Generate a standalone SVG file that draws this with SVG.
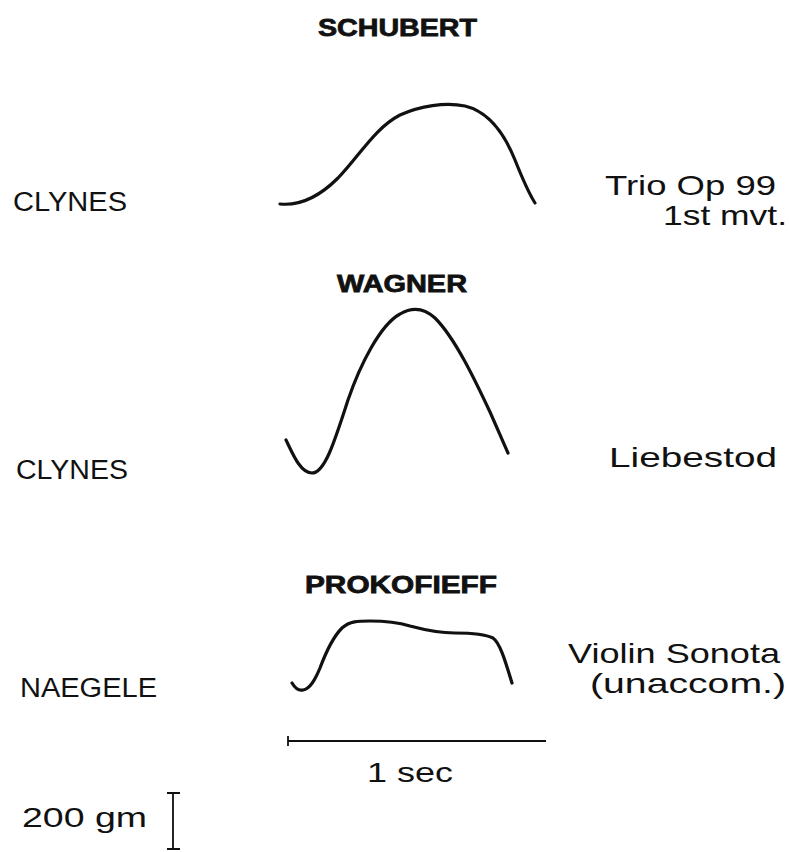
<svg xmlns="http://www.w3.org/2000/svg" width="789" height="852" viewBox="0 0 789 852">
<style>
.t{font-family:"Liberation Sans",Arial,sans-serif;font-size:27px;fill:#111}
.r{font-size:28px}
.h{font-family:"Liberation Sans",Arial,sans-serif;font-size:24px;font-weight:bold;fill:#111;stroke:#111;stroke-width:0.8}
.c{fill:none;stroke:#111;stroke-width:3.2;stroke-linecap:round;stroke-linejoin:round}
.a{fill:none;stroke:#111;stroke-width:1.8}
</style>
<rect width="789" height="852" fill="#fff"/>
<g id="schubert">
<text class="h" x="318" y="36" textLength="159" lengthAdjust="spacingAndGlyphs">SCHUBERT</text>
<text class="t" x="13" y="211" textLength="114" lengthAdjust="spacingAndGlyphs">CLYNES</text>
<path class="c" d="M280,204 C300,206 320,196 338,178 C360,155 375,128 400,115 C420,106 445,102 465,106 C490,112 505,135 515,160 C523,180 528,192 535,203"/>
<text class="t r" x="605" y="195" textLength="171" lengthAdjust="spacingAndGlyphs">Trio Op 99</text>
<text class="t r" x="663" y="225" textLength="124" lengthAdjust="spacingAndGlyphs">1st mvt.</text>
</g>
<g id="wagner">
<text class="h" x="337" y="292" textLength="130" lengthAdjust="spacingAndGlyphs">WAGNER</text>
<text class="t" x="16" y="479" textLength="112" lengthAdjust="spacingAndGlyphs">CLYNES</text>
<path class="c" d="M286,440 C292,452 300,473 312,473 C325,473 335,440 348,400 C360,365 380,325 400,314 C410,308 422,306 435,318 C455,338 475,380 490,412 C498,430 503,442 508,453"/>
<text class="t r" x="609" y="467" textLength="168" lengthAdjust="spacingAndGlyphs">Liebestod</text>
</g>
<g id="prokofieff">
<text class="h" x="305" y="593" textLength="192" lengthAdjust="spacingAndGlyphs">PROKOFIEFF</text>
<text class="t" x="20" y="697" textLength="137" lengthAdjust="spacingAndGlyphs">NAEGELE</text>
<path class="c" d="M292,683 C295,688 299,691 303,690 C310,689 315,680 320,668 C326,652 332,638 342,628 C350,621 358,621 370,621 C385,621 400,623 410,626 C425,630 440,633 455,633 C470,633 485,634 493,638 C500,643 505,660 512,683"/>
<text class="t r" x="568" y="663" textLength="212" lengthAdjust="spacingAndGlyphs">Violin Sonota</text>
<text class="t r" x="590" y="693" textLength="196" lengthAdjust="spacingAndGlyphs">(unaccom.)</text>
</g>
<g id="scales">
<path class="a" d="M288,741 H546 M288,736 V746"/>
<text class="t" x="367" y="782" textLength="86" lengthAdjust="spacingAndGlyphs">1 sec</text>
<text class="t" x="22" y="827" textLength="125" lengthAdjust="spacingAndGlyphs">200 gm</text>
<path class="a" d="M173,793 V849 M167,793 H180 M167,849 H180"/>
</g>
</svg>
